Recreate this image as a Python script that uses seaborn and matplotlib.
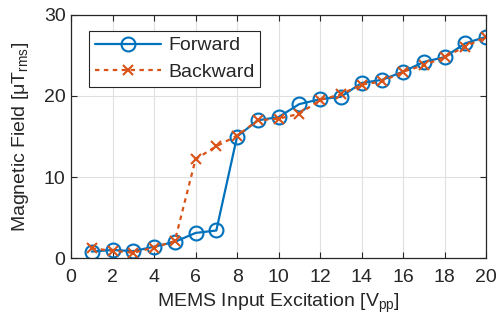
import matplotlib
matplotlib.use("Agg")
import matplotlib.pyplot as plt
import seaborn as sns
import pandas as pd

excitation = list(range(1, 21))
forward = [0.8, 1.0, 0.85, 1.4, 2.0, 3.1, 3.4, 15.0, 17.0, 17.4, 19.0, 19.6, 19.9, 21.6, 22.0, 23.0, 24.2, 24.8, 26.5, 27.3]
backward = [1.2, 0.9, 0.65, 1.3, 2.1, 12.2, 13.8, 15.1, 17.0, 17.2, 17.8, 19.5, 20.2, 21.4, 21.8, 23.0, 23.8, 24.8, 26.1, 27.3]
xticks = list(range(0, 21, 2))
yticks = [0, 10, 20, 30]

sns.set_theme(style="white")
plt.rcParams['font.family'] = ['Liberation Sans', 'DejaVu Sans']
plt.rcParams['mathtext.fontset'] = 'custom'
plt.rcParams['mathtext.rm'] = 'Liberation Sans'
plt.rcParams['mathtext.it'] = 'Liberation Sans:italic'

df = pd.DataFrame({"x": excitation, "Forward": forward, "Backward": backward})

fig = plt.figure(figsize=(4.97, 3.25), dpi=100)
ax = fig.add_axes([0.143, 0.206, 0.835, 0.748])

blue = "#0072BD"
orange = "#D95319"
sns.lineplot(data=df, x="x", y="Forward", ax=ax, color=blue, marker='o',
             markersize=10, markerfacecolor='none', markeredgecolor=blue,
             markeredgewidth=1.5, linewidth=1.6, label="Forward")
sns.lineplot(data=df, x="x", y="Backward", ax=ax, color=orange, marker='x',
             markersize=7, markeredgecolor=orange, markeredgewidth=1.5,
             linewidth=1.6, linestyle=(0, (2, 2)), label="Backward")

ax.set_xlim(0, 20)
ax.set_ylim(0, 30)
ax.set_xticks(xticks)
ax.set_yticks(yticks)
ax.grid(True, color="#E0E0E0", linewidth=0.8)
ax.set_axisbelow(True)
for s in ax.spines.values():
    s.set_color("#262626")
    s.set_linewidth(0.9)
ax.tick_params(direction='in', length=4, width=0.8, colors="#262626",
               labelsize=14, top=True, right=True, bottom=True, left=True)
ax.tick_params(axis='x', pad=8)
ax.tick_params(axis='y', pad=4)
ax.set_xlabel("MEMS Input Excitation [V$_{\\mathrm{pp}}$]", fontsize=14, color="#262626", labelpad=4)
ax.set_ylabel("Magnetic Field [μT$_{\\mathrm{rms}}$]", fontsize=14, color="#262626", labelpad=9)

leg = ax.legend(loc='upper left', bbox_to_anchor=(0.035, 0.95), fontsize=14,
                handlelength=3.4, frameon=True, fancybox=False, borderpad=0.3,
                labelspacing=0.45, handletextpad=0.35, borderaxespad=0.2)
leg.get_frame().set_edgecolor("#262626")
leg.get_frame().set_linewidth(0.8)
leg.get_frame().set_alpha(1)

fig.savefig("out.png", dpi=100)
